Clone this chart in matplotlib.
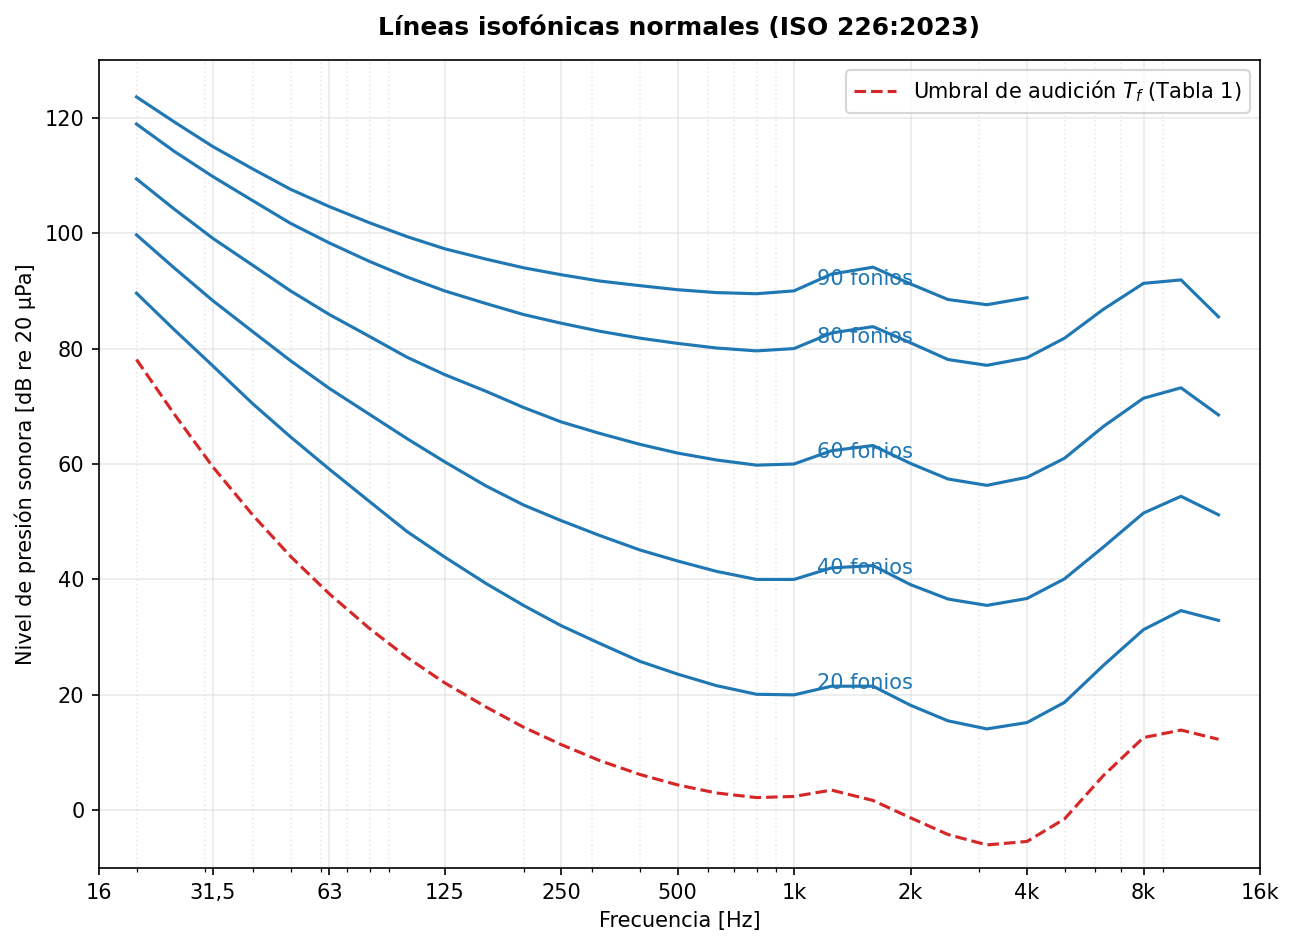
import matplotlib
matplotlib.use("Agg")
import matplotlib.pyplot as plt
from matplotlib.ticker import NullFormatter

freqs = [20, 25, 31.5, 40, 50, 63, 80, 100, 125, 160, 200, 250, 315, 400, 500,
         630, 800, 1000, 1250, 1600, 2000, 2500, 3150, 4000, 5000, 6300, 8000,
         10000, 12500]

threshold = [78.1, 68.7, 59.5, 51.1, 44.0, 37.5, 31.5, 26.5, 22.1, 17.9, 14.4,
             11.4, 8.6, 6.2, 4.4, 3.0, 2.2, 2.4, 3.5, 1.7, -1.3, -4.2, -6.0,
             -5.4, -1.5, 6.0, 12.6, 13.9, 12.3]

phon20 = [89.6, 83.3, 77.0, 70.4, 64.7, 59.1, 53.5, 48.3, 43.9, 39.3, 35.5,
          32.0, 28.9, 25.8, 23.6, 21.6, 20.1, 20.0, 21.5, 21.5, 18.2, 15.5,
          14.1, 15.2, 18.7, 25.1, 31.3, 34.6, 32.9]

phon40 = [99.7, 94.0, 88.3, 82.9, 77.9, 73.1, 68.6, 64.4, 60.4, 56.2, 52.9,
          50.2, 47.6, 45.1, 43.2, 41.4, 40.0, 40.0, 42.0, 42.4, 39.1, 36.6,
          35.5, 36.7, 40.1, 45.6, 51.5, 54.4, 51.2]

phon60 = [109.4, 104.2, 99.1, 94.4, 90.0, 85.9, 82.1, 78.5, 75.5, 72.6, 69.8,
          67.3, 65.3, 63.4, 61.9, 60.7, 59.8, 60.0, 62.3, 63.2, 60.1, 57.4,
          56.3, 57.7, 61.0, 66.5, 71.4, 73.2, 68.5]

phon80 = [118.9, 114.2, 109.8, 105.6, 101.7, 98.3, 95.1, 92.4, 90.0, 87.8, 85.9,
          84.4, 83.0, 81.8, 80.9, 80.1, 79.6, 80.0, 82.7, 83.8, 81.0, 78.1,
          77.1, 78.4, 81.8, 86.8, 91.3, 91.9, 85.5]

freqs90 = freqs[:24]
phon90 = [123.6, 119.3, 115.0, 111.1, 107.6, 104.6, 101.8, 99.4, 97.3, 95.5,
          94.0, 92.8, 91.7, 90.9, 90.2, 89.7, 89.5, 90.0, 92.9, 94.1, 91.2,
          88.5, 87.6, 88.8]

contours = [(20, freqs, phon20), (40, freqs, phon40), (60, freqs, phon60),
            (80, freqs, phon80), (90, freqs90, phon90)]

xtick_vals = [16, 31.5, 63, 125, 250, 500, 1000, 2000, 4000, 8000, 16000]
xtick_labels = ["16", "31,5", "63", "125", "250", "500", "1k", "2k", "4k", "8k", "16k"]

fig = plt.figure(figsize=(1295 / 150, 948 / 150), dpi=150)
ax = fig.add_axes([99 / 1295, 80 / 948, (1260 - 99) / 1295, (868 - 60) / 948])

for phon, f, lv in contours:
    ax.plot(f, lv, color="C0", lw=1.5)
    ax.text(1150, phon + 2, f"{phon} fonios", color="C0", fontsize=10,
            ha="left", va="center")

ax.plot(freqs, threshold, color="C3", ls="--", lw=1.5,
        label="Umbral de audición $T_f$ (Tabla 1)")

ax.set_xscale("log")
ax.set_xlim(16, 16000)
ax.set_ylim(-10, 130)
ax.set_xticks(xtick_vals)
ax.set_xticklabels(xtick_labels)
ax.xaxis.set_minor_formatter(NullFormatter())
ax.tick_params(labelsize=10)

ax.grid(True, which="major", color="#dddddd", alpha=0.6, lw=0.8)
ax.grid(True, which="minor", axis="x", color="#dddddd", alpha=0.6, ls=":", lw=0.8)

ax.set_xlabel("Frecuencia [Hz]", fontsize=10)
ax.set_ylabel("Nivel de presión sonora [dB re 20 µPa]", fontsize=10)
ax.set_title("Líneas isofónicas normales (ISO 226:2023)", fontsize=12,
             fontweight="bold", pad=12)
ax.legend(loc="upper right", fontsize=10)

fig.savefig("out.png", dpi=150)
